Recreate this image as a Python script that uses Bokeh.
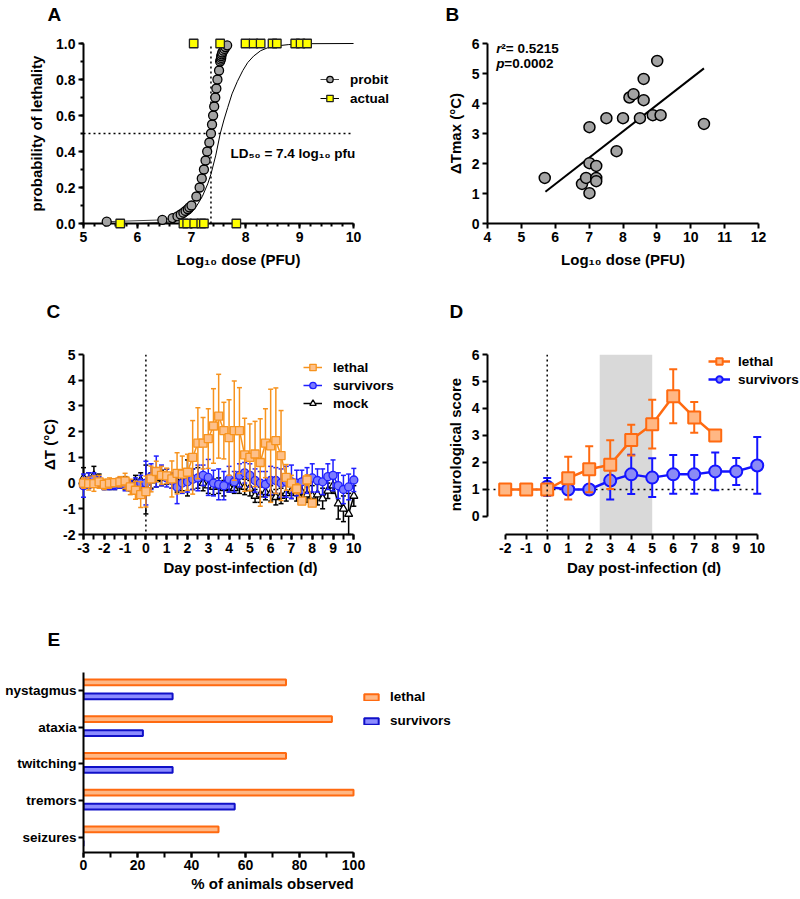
from bokeh.plotting import figure
from bokeh.layouts import column, row
from bokeh.models import (ColumnDataSource, FixedTicker, Legend, LegendItem, Label, Title,
                          Span, BoxAnnotation, Range1d, PrintfTickFormatter)
from bokeh.transform import dodge
from bokeh.embed import file_html
from bokeh.resources import INLINE

FONT = "Liberation Sans"

# ---------------- Panel A data ----------------
probit_p = [0.01, 0.02, 0.03, 0.04, 0.05, 0.06, 0.07, 0.08, 0.09, 0.10, 0.15, 0.20, 0.25,
            0.30, 0.35, 0.40, 0.45, 0.50, 0.55, 0.60, 0.65, 0.70, 0.75, 0.80, 0.85, 0.90,
            0.91, 0.92, 0.93, 0.94, 0.95, 0.96, 0.97, 0.98, 0.99]
probit_dose = [5.43, 6.46, 6.65, 6.74, 6.80, 6.85, 6.89, 6.93, 6.96, 7.00, 7.09, 7.15, 7.19,
               7.23, 7.26, 7.29, 7.33, 7.36, 7.38, 7.40, 7.42, 7.44, 7.46, 7.48, 7.51, 7.53,
               7.54, 7.55, 7.55, 7.56, 7.57, 7.59, 7.61, 7.63, 7.66]
actual_dose = [5.68, 6.85, 6.92, 7.05, 7.18, 7.23, 7.83,
               7.04, 7.53, 8.00, 8.15, 8.28, 8.50, 8.58, 8.92, 9.02, 9.14]
actual_outcome = [0, 0, 0, 0, 0, 0, 0,
                  1, 1, 1, 1, 1, 1, 1, 1, 1, 1]
fit_dose = [5.68, 6.0, 6.5, 6.8, 7.0, 7.1, 7.2, 7.3, 7.36, 7.45, 7.53, 7.6, 7.67, 7.75,
            7.85, 7.95, 8.04, 8.15, 8.28, 8.4, 8.59, 8.8, 9.2, 10.0]
fit_prob = [0.0, 0.0, 0.005, 0.02, 0.06, 0.1, 0.15, 0.22, 0.274, 0.38, 0.497, 0.575, 0.644,
            0.72, 0.79, 0.85, 0.894, 0.93, 0.96, 0.975, 0.987, 0.994, 0.999, 1.0]
LD50 = 7.36
LD50_P = 0.5

# ---------------- Panel B data ----------------
b_dose = [5.69, 6.79, 6.91, 7.01, 7.01, 7.01, 7.21, 7.21, 7.21, 7.51, 7.81, 8.00, 8.19,
          8.31, 8.50, 8.61, 8.61, 8.88, 9.01, 9.11, 10.39]
b_dtmax = [1.52, 1.32, 1.52, 1.01, 2.01, 3.21, 1.92, 1.52, 1.41, 3.51, 2.41, 3.51, 4.20,
           4.31, 3.51, 4.11, 4.82, 3.61, 5.42, 3.61, 3.32]
b_fit_x = [5.71, 10.39]
b_fit_y = [1.06, 5.17]

# ---------------- Panel C data ----------------
c_days_lethal = [-3, -2.75, -2.5, -2.25, -2, -1.75, -1.5, -1.25, -1, -0.75, -0.5, -0.25, 0,
                 0.25, 0.5, 0.75, 1, 1.25, 1.5, 1.75, 2, 2.25, 2.5, 2.75, 3, 3.25, 3.5, 3.75,
                 4, 4.25, 4.5, 4.75, 5, 5.25, 5.5, 5.75, 6, 6.25, 6.5, 6.75, 7, 7.25, 7.5,
                 7.75, 8]
c_lethal = [0.0, -0.02, -0.02, 0.05, -0.05, 0.0, 0.02, 0.05, 0.08, -0.15, -0.28, -0.45, -0.33,
            0.16, 0.45, 0.30, 0.28, 0.16, 0.38, 0.35, 0.42, 1.0, 1.55, 1.55, 1.73, 2.22, 2.6,
            2.04, 1.77, 2.04, 2.04, 1.1, 1.0, 1.13, 0.8, 1.55, 1.45, 1.65, 1.07, 0.22, 0.0,
            -0.22, -0.7, 0.12, -0.78]
c_lethal_err = [0.2, 0.25, 0.3, 0.25, 0.2, 0.2, 0.15, 0.2, 0.3, 0.3, 0.35, 0.5, 0.6,
                0.5, 0.4, 0.35, 0.3, 0.7, 0.8, 0.7, 0.7, 1.43, 1.38, 1.0, 1.16, 1.45, 1.63,
                1.1, 1.47, 1.93, 1.67, 1.42, 1.3, 1.27, 1.7, 1.34, 2.2, 2.05, 1.75, 0.5, 0.3,
                0.2, 0.1, 0.2, 0.1]
c_days = [-3, -2.75, -2.5, -2.25, -2, -1.75, -1.5, -1.25, -1, -0.75, -0.5, -0.25, 0,
          0.25, 0.5, 0.75, 1, 1.25, 1.5, 1.75, 2, 2.25, 2.5, 2.75, 3, 3.25, 3.5, 3.75,
          4, 4.25, 4.5, 4.75, 5, 5.25, 5.5, 5.75, 6, 6.25, 6.5, 6.75, 7, 7.25, 7.5,
          7.75, 8, 8.25, 8.5, 8.75, 9, 9.25, 9.5, 9.75, 10]
c_surv = [-0.1, 0.1, 0.15, 0.05, -0.1, -0.1, -0.05, 0.0, -0.05, -0.1, -0.1, 0.0, 0.0,
          0.25, 0.45, 0.3, 0.2, 0.1, -0.15, 0.0, 0.05, 0.15, 0.2, 0.3, 0.22, 0.0, -0.05,
          -0.1, 0.15, 0.05, 0.3, 0.4, 0.3, 0.1, 0.0, -0.05, 0.1, 0.1, 0.0, 0.05, 0.05,
          0.0, 0.05, 0.1, 0.2, 0.1, 0.05, 0.25, 0.3, -0.1, -0.25, -0.15, 0.12]
c_surv_err = [0.45, 0.3, 0.25, 0.2, 0.15, 0.15, 0.2, 0.2, 0.25, 0.2, 0.3, 0.3, 0.85,
              0.5, 0.6, 0.4, 0.35, 0.3, 0.65, 0.4, 0.4, 0.4, 0.5, 0.4, 0.7, 0.5, 0.6,
              0.55, 0.5, 0.4, 0.45, 0.4, 0.45, 0.45, 0.45, 0.5, 0.55, 0.5, 0.55, 0.6, 0.65,
              0.5, 0.45, 0.5, 0.55, 0.45, 0.5, 0.5, 0.6, 0.5, 0.55, 0.5, 0.45]
c_mock = [0.2, 0.1, 0.3, 0.1, -0.1, -0.1, -0.05, 0.0, 0.0, -0.1, 0.05, 0.1, -0.25,
          0.1, 0.15, 0.2, 0.25, 0.1, 0.05, 0.1, 0.2, 0.15, 0.2, 0.0, -0.1, -0.15, -0.1,
          -0.2, -0.15, -0.2, -0.1, -0.15, -0.2, -0.5, -0.45, -0.35, -0.4, -0.55, -0.5,
          -0.4, -0.3, -0.4, -0.35, -0.45, -0.5, -0.45, -0.6, -0.3, -0.1, -0.8, -1.0, -1.2,
          -0.5]
c_mock_err = [0.4, 0.3, 0.35, 0.25, 0.15, 0.15, 0.2, 0.2, 0.25, 0.2, 0.25, 0.3, 0.95,
              0.3, 0.3, 0.3, 0.3, 0.3, 0.4, 0.4, 0.7, 0.4, 0.4, 0.3, 0.3, 0.3, 0.3,
              0.3, 0.2, 0.2, 0.3, 0.3, 0.3, 0.25, 0.3, 0.3, 0.3, 0.3, 0.3, 0.3, 0.3,
              0.3, 0.3, 0.3, 0.4, 0.4, 0.4, 0.3, 0.3, 0.6, 0.5, 0.8, 0.4]

# ---------------- Panel D data ----------------
d_days_lethal = [-2, -1, 0, 1, 2, 3, 4, 5, 6, 7, 8]
d_lethal = [1.0, 1.0, 1.0, 1.42, 1.75, 1.92, 2.83, 3.42, 4.45, 3.67, 3.0]
d_lethal_sd = [0, 0, 0, 0.79, 0.85, 0.9, 0.57, 0.9, 1.0, 0.57, 0]
d_days_surv = [0, 1, 2, 3, 4, 5, 6, 7, 8, 9, 10]
d_surv = [1.1, 1.0, 1.0, 1.33, 1.56, 1.44, 1.56, 1.56, 1.67, 1.67, 1.89]
d_surv_sd = [0.33, 0, 0, 0.7, 0.73, 0.72, 0.72, 0.72, 0.7, 0.5, 1.05]
D_SHADE = (2.5, 5.0)
D_BASELINE = 1.0

# ---------------- Panel E data ----------------
e_signs = ["nystagmus", "ataxia", "twitching", "tremors", "seizures"]
e_lethal = [75, 92, 75, 100, 50]
e_surv = [33, 22, 33, 56, 0]

# ---------------- colours ----------------
C_OR, C_OR_F = "#F7931E", "#FDC08A"
C_BL, C_BL_F = "#1F1FFF", "#7B7BFF"
D_OR, D_OR_F = "#FF6A10", "#FFB784"
D_BL, D_BL_F = "#1414FF", "#8B8BF5"
GRAY = "#A3A3A3"


def base_fig(width, height, xr, yr, borders, letter, t_off, spacer):
    p = figure(width=width, height=height, x_range=xr, y_range=yr,
               output_backend="svg", toolbar_location=None,
               min_border_left=borders[0], min_border_right=borders[1],
               min_border_top=borders[2], min_border_bottom=borders[3])
    p.add_layout(Title(text=" ", text_font_size="1px", standoff=spacer), "above")
    p.add_layout(Title(text=letter, text_font=FONT, text_font_style="bold",
                       text_font_size="19px", text_color="black", align="left",
                       offset=t_off, standoff=0), "above")
    p.grid.visible = False
    p.outline_line_color = None
    for ax in p.axis:
        ax.axis_line_width = 2
        ax.axis_line_color = "black"
        ax.major_tick_line_width = 2
        ax.minor_tick_line_width = 2
        ax.major_tick_out = 5
        ax.major_tick_in = 0
        ax.minor_tick_out = 3
        ax.minor_tick_in = 0
        ax.major_label_text_font = FONT
        ax.major_label_text_font_style = "bold"
        ax.major_label_text_font_size = "14px"
        ax.major_label_text_color = "black"
        ax.axis_label_text_font = FONT
        ax.axis_label_text_font_style = "bold"
        ax.axis_label_text_font_size = "15px"
        ax.axis_label_text_color = "black"
        ax.major_label_standoff = 3
    return p


def legend(p, items, loc, gw, gh, standoff, spacing):
    lg = Legend(items=items, location=loc, orientation="vertical",
                glyph_width=gw, glyph_height=gh, label_height=gh,
                label_standoff=standoff, spacing=spacing, padding=0, margin=0,
                background_fill_alpha=0, border_line_color=None,
                label_text_font=FONT, label_text_font_style="bold",
                label_text_font_size="13.5px", label_text_color="black")
    p.add_layout(lg)
    return lg


def errbars(p, x, y, e, color, cap, width, level):
    src = ColumnDataSource(dict(x=x, lo=[a - b for a, b in zip(y, e)],
                                hi=[a + b for a, b in zip(y, e)]))
    p.segment(x0="x", y0="lo", x1="x", y1="hi", source=src, line_color=color,
              line_width=width, level=level)
    p.scatter(x="x", y="hi", source=src, marker="dash", size=cap, line_color=color,
              line_width=width, level=level)
    p.scatter(x="x", y="lo", source=src, marker="dash", size=cap, line_color=color,
              line_width=width, level=level)


INT_FMT = PrintfTickFormatter(format="%d")

# ================= Panel A =================
pA = base_fig(400, 290, Range1d(5, 10.74), Range1d(0, 1), (83, 7, 43, 67), "A", -36, 16)
pA.xaxis.bounds = (5, 10)
pA.xaxis.ticker = FixedTicker(ticks=[5, 6, 7, 8, 9, 10],
                              minor_ticks=[5 + 0.2 * i for i in range(26)])
pA.yaxis.ticker = FixedTicker(ticks=[0, 0.2, 0.4, 0.6, 0.8, 1.0],
                              minor_ticks=[0.1 * i for i in range(11)])
pA.yaxis.formatter = PrintfTickFormatter(format="%.1f")
pA.xaxis.axis_label = "Log₁₀ dose (PFU)"
pA.yaxis.axis_label = "probability of lethality"
pA.xaxis.axis_label_standoff = 6
pA.yaxis.axis_label_standoff = 8

pA.line(x=[5, 10], y=[LD50_P, LD50_P], line_color="black", line_width=1.5,
        line_dash="2 3")
pA.line(x=[LD50, LD50], y=[0, 1], line_color="black", line_width=1.5, line_dash="2 3")

fit_r = pA.line(x=fit_dose, y=fit_prob, line_color="black", line_width=1, level="overlay")
pl_r = pA.line(x=probit_dose, y=probit_p, line_color="#444444", line_width=1, level="overlay")
ps_r = pA.scatter(x=probit_dose, y=probit_p, marker="circle", size=9, fill_color=GRAY,
                  line_color="black", line_width=1.3, level="overlay")
as_r = pA.scatter(x=actual_dose, y=actual_outcome, marker="square", size=8.5,
                  fill_color="#FFFF00", line_color="#222222", line_width=1.3, level="overlay")
legend(pA, [LegendItem(label="probit", renderers=[pl_r, ps_r]),
            LegendItem(label="actual", renderers=[fit_r, as_r])],
       (237, 117), 19, 16, 11, 3)
pA.add_layout(Label(x=7.72, y=0.39, text="LD₅₀ = 7.4 log₁₀ pfu", text_font=FONT,
                    text_font_style="bold", text_font_size="13.5px", text_baseline="middle",
                    text_color="black"))

# ================= Panel B =================
pB = base_fig(400, 290, Range1d(4, 12), Range1d(0, 6), (87, 42, 43, 67), "B", -42, 16)
pB.xaxis.ticker = FixedTicker(ticks=list(range(4, 13)))
pB.yaxis.ticker = FixedTicker(ticks=list(range(0, 7)))
pB.xaxis.axis_label = "Log₁₀ dose (PFU)"
pB.yaxis.axis_label = "ΔTmax (°C)"
pB.xaxis.axis_label_standoff = 6
pB.yaxis.axis_label_standoff = 5
pB.line(x=b_fit_x, y=b_fit_y, line_color="black", line_width=2)
pB.scatter(x=b_dose, y=b_dtmax, marker="circle", size=11, fill_color=GRAY,
           line_color="black", line_width=1.5)
for (lx, ly, off, txt, sty) in [(4.26, 5.84, 0, "r", "bold italic"),
                                (4.26, 5.84, 5, "²= 0.5215", "bold"),
                                (4.26, 5.34, 0, "p", "bold italic"),
                                (4.26, 5.34, 8, "=0.0002", "bold")]:
    pB.add_layout(Label(x=lx, y=ly, x_offset=off, text=txt, text_font=FONT,
                        text_font_style=sty, text_font_size="13.5px", text_baseline="middle",
                        text_color="black"))

# ================= Panel C =================
pC = base_fig(400, 330, Range1d(-3, 12.1), Range1d(-2, 5), (83, 3, 64, 86), "C", -37, 30)
pC.xaxis.bounds = (-3, 10)
pC.xaxis.ticker = FixedTicker(ticks=list(range(-3, 11)),
                              minor_ticks=[-3 + 0.5 * i for i in range(27)])
pC.xaxis.minor_tick_out = 5
pC.yaxis.ticker = FixedTicker(ticks=list(range(-2, 6)))
pC.xaxis.formatter = INT_FMT
pC.yaxis.formatter = INT_FMT
pC.xaxis.axis_label = "Day post-infection (d)"
pC.yaxis.axis_label = "ΔT (°C)"
pC.xaxis.axis_label_standoff = 3
pC.yaxis.axis_label_standoff = 2
pC.add_layout(Span(location=0, dimension="height", line_color="black", line_width=1.5,
                   line_dash="2 3"))

errbars(pC, c_days, c_mock, c_mock_err, "black", 5, 1.5, "overlay")
cm_l = pC.line(x=c_days, y=c_mock, line_color="black", line_width=1.5, level="overlay")
cm_s = pC.scatter(x=c_days, y=c_mock, marker="triangle", size=8, fill_color="white",
                  line_color="black", line_width=1.3, level="overlay")
errbars(pC, c_days, c_surv, c_surv_err, C_BL, 5, 1.5, "overlay")
cs_l = pC.line(x=c_days, y=c_surv, line_color=C_BL, line_width=1.5, level="overlay")
cs_s = pC.scatter(x=c_days, y=c_surv, marker="circle", size=8, fill_color=C_BL_F,
                  line_color=C_BL, line_width=1.3, level="overlay")
errbars(pC, c_days_lethal, c_lethal, c_lethal_err, C_OR, 5, 1.5, "overlay")
cl_l = pC.line(x=c_days_lethal, y=c_lethal, line_color=C_OR, line_width=1.5, level="overlay")
cl_s = pC.scatter(x=c_days_lethal, y=c_lethal, marker="square", size=8, fill_color=C_OR_F,
                  line_color=C_OR, line_width=1.3, level="overlay")
legend(pC, [LegendItem(label="lethal", renderers=[cl_l, cl_s]),
            LegendItem(label="survivors", renderers=[cs_l, cs_s]),
            LegendItem(label="mock", renderers=[cm_l, cm_s])],
       (220, 123), 19, 16, 11, 2)

# ================= Panel D =================
pD = base_fig(400, 330, Range1d(-2.843, 12.06), Range1d(-0.667, 6), (87, 0, 64, 86), "D",
              -38, 30)
pD.xaxis.bounds = (-2, 10)
pD.yaxis.bounds = (0, 6)
pD.xaxis.ticker = FixedTicker(ticks=list(range(-2, 11)))
pD.yaxis.ticker = FixedTicker(ticks=list(range(0, 7)))
pD.xaxis.formatter = INT_FMT
pD.xaxis.axis_label = "Day post-infection (d)"
pD.yaxis.axis_label = "neurological score"
pD.xaxis.axis_label_standoff = 3
pD.yaxis.axis_label_standoff = 5
pD.add_layout(BoxAnnotation(left=D_SHADE[0], right=D_SHADE[1], top=6,
                            fill_color="#D9D9D9", fill_alpha=1, line_color=None,
                            level="underlay"))
pD.add_layout(Span(location=0, dimension="height", line_color="black", line_width=1.5,
                   line_dash="2 3"))
pD.line(x=[-2.843, 10], y=[D_BASELINE, D_BASELINE], line_color="black", line_width=1.5,
        line_dash="2 4")
errbars(pD, d_days_surv, d_surv, d_surv_sd, D_BL, 8, 2, "glyph")
ds_l = pD.line(x=d_days_surv, y=d_surv, line_color=D_BL, line_width=2.5)
ds_s = pD.scatter(x=d_days_surv, y=d_surv, marker="circle", size=12, fill_color=D_BL_F,
                  line_color=D_BL, line_width=2)
errbars(pD, d_days_lethal, d_lethal, d_lethal_sd, D_OR, 8, 2, "glyph")
dl_l = pD.line(x=d_days_lethal, y=d_lethal, line_color=D_OR, line_width=2.5)
dl_s = pD.scatter(x=d_days_lethal, y=d_lethal, marker="square", size=12, fill_color=D_OR_F,
                  line_color=D_OR, line_width=2)
legend(pD, [LegendItem(label="lethal", renderers=[dl_l, dl_s]),
            LegendItem(label="survivors", renderers=[ds_l, ds_s])],
       (221, 147), 22, 16, 8, 2)

# ================= Panel E =================
e_pos = [len(e_signs) - 1 - i for i in range(len(e_signs))]
e_src = ColumnDataSource(dict(y=e_pos, lethal=e_lethal, surv=e_surv))
pE = base_fig(468, 277, Range1d(0, 140), Range1d(-0.41, 4.49), (83, 7, 52, 45), "E", -36, 20)
pE.xaxis.bounds = (0, 100)
pE.xaxis.ticker = FixedTicker(ticks=[0, 20, 40, 60, 80, 100],
                              minor_ticks=[10 * i for i in range(11)])
pE.xaxis.minor_tick_out = 5
pE.yaxis.ticker = FixedTicker(ticks=e_pos)
pE.yaxis.major_label_overrides = {pos: name for pos, name in zip(e_pos, e_signs)}
pE.yaxis.major_label_standoff = 2
pE.yaxis.major_label_text_font_size = "13.5px"
pE.xaxis.major_label_standoff = 2
pE.xaxis.axis_label = "% of animals observed"
pE.xaxis.axis_label_standoff = 2
el = pE.hbar(y=dodge("y", 0.22), right="lethal", left=0, height=0.16, source=e_src,
             fill_color=D_OR_F, line_color=D_OR, line_width=2)
es = pE.hbar(y=dodge("y", -0.16), right="surv", left=0, height=0.16, source=e_src,
             fill_color="#8C8CFF", line_color="#1010C8", line_width=2)
legend(pE, [LegendItem(label="lethal", renderers=[el]),
            LegendItem(label="survivors", renderers=[es])],
       (279, 124), 18, 8, 10, 9)

layout = column(row(pA, pB), row(pC, pD), pE)
open("out.html", "w").write(file_html(layout, INLINE))
